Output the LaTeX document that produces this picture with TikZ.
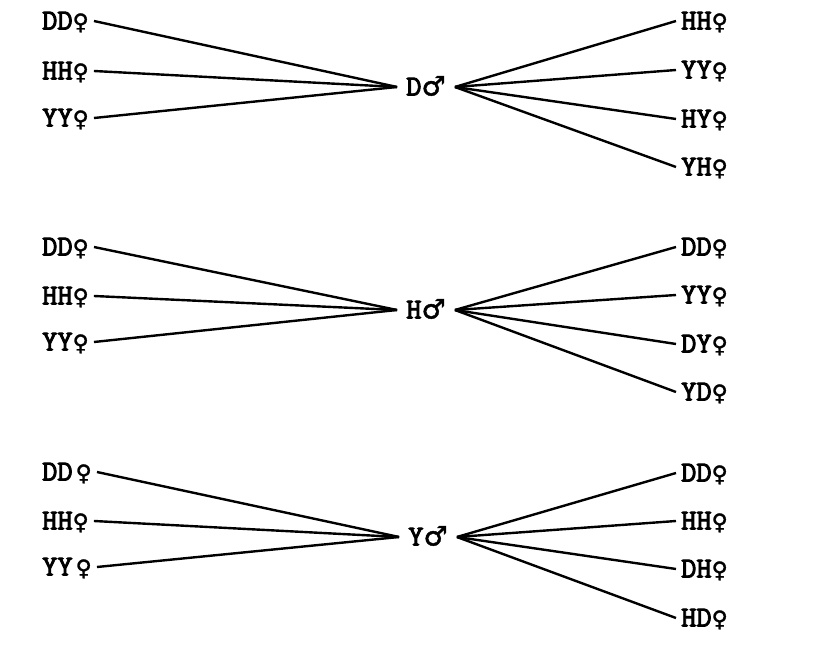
\documentclass[tikz,border=0pt]{standalone}
\usepackage{fontspec}
\newfontfamily\twfont[FakeBold=3]{lmmono10-regular.otf}
\newfontfamily\symfont[FakeBold=1.5]{DejaVu Sans}
\newcommand\femsym{{\symfont\fontsize{22}{22}\selectfont ♀}}
\newcommand\malsym{{\symfont\fontsize{27}{27}\selectfont ♂}}
\begin{document}
\begin{tikzpicture}[x=1pt,y=-1pt,
  lab/.style={font=\twfont\fontsize{29}{29}\selectfont, inner ysep=0pt, inner xsep=5pt, text height=17pt, text depth=0pt},
  lft/.style={lab, anchor=west},
  rgt/.style={lab, anchor=west},
  hub/.style={lab, inner xsep=9pt},
  conn/.style={line width=2.4pt}]
\useasboundingbox (0,0) rectangle (831,663);
% group 1
\node[hub] (h1) at (426,87) {D\malsym};
\node[lft] (l11) at (37,21) {DD\femsym};
\node[lft] (l12) at (37,71) {HH\femsym};
\node[lft] (l13) at (37,118) {YY\femsym};
\node[rgt] (r11) at (676,21) {HH\femsym};
\node[rgt] (r12) at (676,70) {YY\femsym};
\node[rgt] (r13) at (676,119) {HY\femsym};
\node[rgt] (r14) at (676,167) {YH\femsym};
\foreach \n in {l11,l12,l13} \draw[conn] (\n.east) -- (h1.west);
\foreach \n in {r11,r12,r13,r14} \draw[conn] (h1.east) -- (\n.west);
% group 2
\node[hub] (h2) at (426,310) {H\malsym};
\node[lft] (l21) at (37,247) {DD\femsym};
\node[lft] (l22) at (37,296) {HH\femsym};
\node[lft] (l23) at (37,342) {YY\femsym};
\node[rgt] (r21) at (676,247) {DD\femsym};
\node[rgt] (r22) at (676,295) {YY\femsym};
\node[rgt] (r23) at (676,344) {DY\femsym};
\node[rgt] (r24) at (676,392) {YD\femsym};
\foreach \n in {l21,l22,l23} \draw[conn] (\n.east) -- (h2.west);
\foreach \n in {r21,r22,r23,r24} \draw[conn] (h2.east) -- (\n.west);
% group 3
\node[hub] (h3) at (428,537) {Y\malsym};
\node[lft] (l31) at (37,472) {DD\hspace{3pt}\femsym};
\node[lft] (l32) at (37,521) {HH\femsym};
\node[lft] (l33) at (37,567) {YY\hspace{3pt}\femsym};
\node[rgt] (r31) at (676,473) {DD\femsym};
\node[rgt] (r32) at (676,521) {HH\femsym};
\node[rgt] (r33) at (676,569) {DH\femsym};
\node[rgt] (r34) at (676,618) {HD\femsym};
\foreach \n in {l31,l32,l33} \draw[conn] (\n.east) -- (h3.west);
\foreach \n in {r31,r32,r33,r34} \draw[conn] (h3.east) -- (\n.west);
\end{tikzpicture}
\end{document}
